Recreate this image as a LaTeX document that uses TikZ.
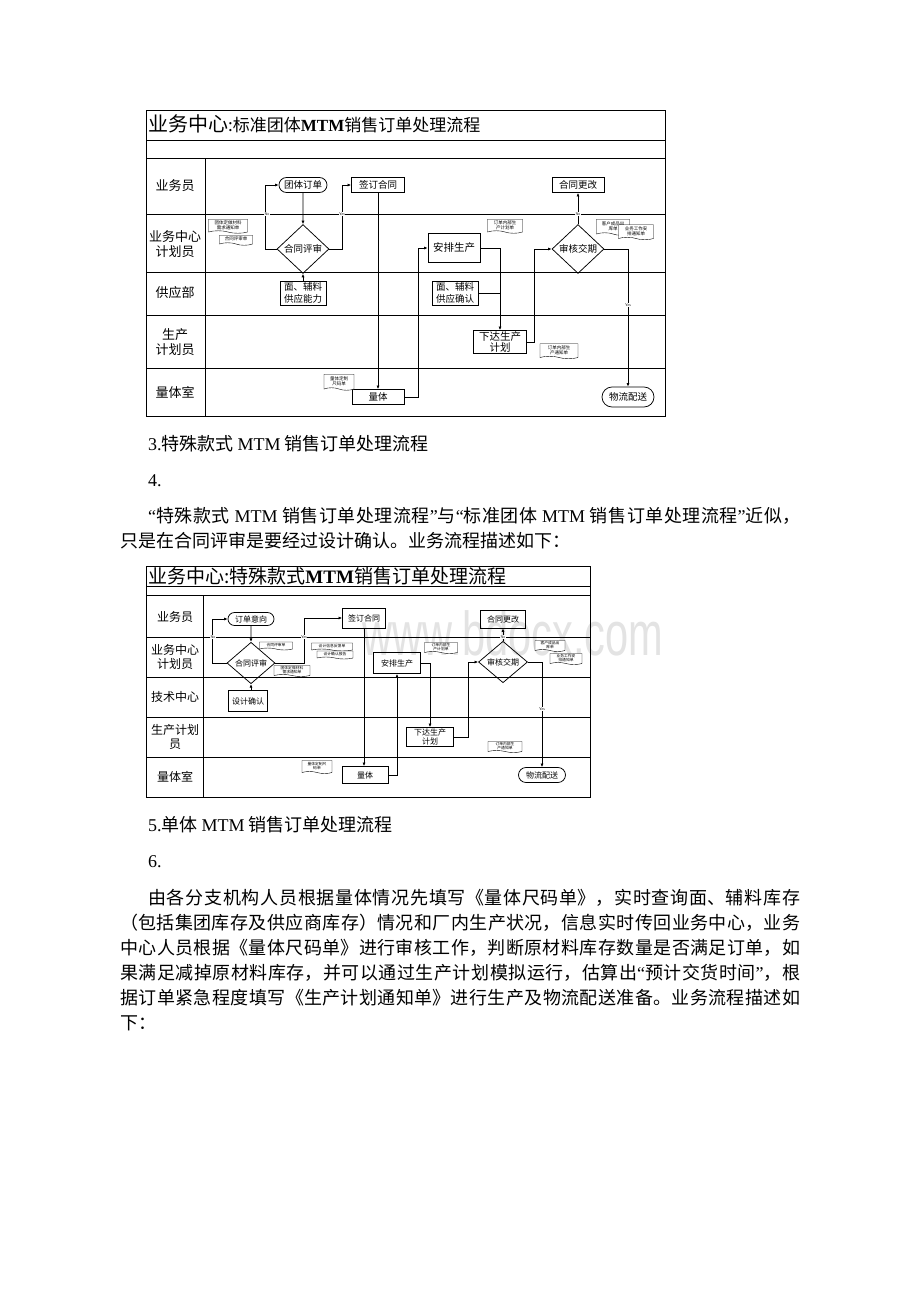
\documentclass[tikz,border=0pt]{standalone}
\usepackage{fontspec}
\setmainfont{Noto Sans CJK SC}
\newfontfamily\lat{Liberation Serif}
\newfontfamily\wmfont{Liberation Sans}
\usetikzlibrary{shapes.geometric,shapes.misc,shapes.symbols,arrows.meta}
\XeTeXlinebreaklocale "zh"
\XeTeXlinebreakskip=0pt plus 1.5pt
\newcommand\setfs[2]{\fontsize{#1}{#2}\selectfont}

\tikzset{
  laneframe/.style={line width=1pt},
  flow/.style={line width=0.75pt,-{Latex[length=3.5pt,width=3pt]}},
  link/.style={line width=0.75pt},
  procbox/.style={draw,line width=0.75pt,align=center,inner sep=0.5pt},
  term/.style={procbox,rounded rectangle},
  decide/.style={procbox,diamond},
  doc/.style={draw,fill=white,line width=0.4pt,tape,tape bend top=none,tape bend bottom=out and in,
    tape bend height=2.5pt,align=center,inner sep=0.3pt},
  lane/.style={align=center,inner sep=0pt},
  yn/.style={fill=white,inner sep=0.3pt,font=\lat\setfs{4}{4}},
  body/.style={anchor=base west,inner sep=0pt,font=\setfs{18}{25}}
}

\begin{document}
\begin{tikzpicture}[x=1pt,y=-1pt]
\useasboundingbox[fill=white] (0,0) rectangle (920,1302);
\node[text=black!11,font=\wmfont\setfs{62}{62},xscale=0.67,anchor=base] (wm) at (513,655) {www.bdocx.com};

% --- diagram 1
\draw[laneframe] (146,110) rectangle (665,416);
\foreach \y in {140,158,214,272,315,368} \draw[laneframe] (146,\y) -- (665,\y);
\draw[laneframe] (205,158) -- (205,416);
\node[anchor=west,inner sep=0pt] (titleA) at (148,124)
  {\setfs{20}{20}业务中心\setfs{17}{17}:标准团体{\lat\bfseries MTM}销售订单处理流程};

\begin{scope}[every node/.append style={font=\setfs{13}{15.5}}]
\node[lane] (laneA1) at (175,186) {业务员};
\node[lane] (laneA2) at (175,244) {业务中心\\计划员};
\node[lane] (laneA3) at (175,293) {供应部};
\node[lane] (laneA4) at (175,342) {生产\\计划员};
\node[lane] (laneA5) at (175,392) {量体室};
\end{scope}

\begin{scope}[every node/.append style={font=\setfs{9.5}{11.5}}]
\node[term,minimum width=49pt,minimum height=15pt] (ordA) at (303,185) {团体订单};
\node[procbox,minimum width=53pt,minimum height=15pt] (signA) at (378,185) {签订合同};
\node[procbox,minimum width=52pt,minimum height=15pt] (chgA) at (578,185) {合同更改};
\node[decide,minimum width=52pt,minimum height=29pt] (revA) at (303,249) {合同评审};
\node[procbox,minimum width=46pt,minimum height=24pt] (supA) at (303,293) {面、辅料\\供应能力};
\node[procbox,minimum width=52pt,minimum height=15pt] (measA) at (378,397) {量体};
\node[procbox,minimum width=52pt,minimum height=29pt,font=\setfs{10.5}{12}] (arrA) at (454,248) {安排生产};
\node[procbox,minimum width=46pt,minimum height=24pt] (cfmA) at (455,293) {面、辅料\\供应确认};
\node[procbox,minimum width=53pt,minimum height=23pt,font=\setfs{10.5}{11.5}] (issA) at (500,342) {下达生产\\计划};
\node[decide,minimum width=52pt,minimum height=30pt] (chkA) at (578,249) {审核交期};
\node[term,minimum width=53pt,minimum height=20pt] (logA) at (628,397) {物流配送};
\end{scope}

\draw[flow] (revA.west) -- ++(-11,0) |- (ordA.west);
\draw[flow] (ordA) -- (revA);
\draw[flow] (revA.east) -- ++(13,0) |- (signA.west);
\draw[flow] (supA) -- (revA);
\draw[flow] (signA.south) -- (measA.north);
\draw[flow] (measA.east) -- ++(14,0) |- (arrA.west);
\draw[flow] (arrA.east) -| (issA.north);
\draw[link] (cfmA.east) -- (cfmA.east -| issA.north);
\draw[flow] (issA.east) -- ++(7,0) |- (chkA.west);
\draw[flow] (chkA.north) -- (chgA.south);
\draw[flow] (chkA.east) -| (logA.north);
\node[yn] (noA1) at (267,214) {No};
\node[yn] (yesA1) at (342,214) {Yes};
\node[yn] (noA2) at (578,214) {No};
\node[yn] (yesA2) at (628,305) {Yes};

\begin{scope}[every node/.append style={font=\setfs{4.5}{5.2}}]
\node[doc,minimum width=39pt,minimum height=14pt] (dA1) at (228,225) {团体定做材料\\需求通知单};
\node[doc,minimum width=33pt,minimum height=10pt] (dA2) at (236,239) {合同评审单};
\node[doc,minimum width=35pt,minimum height=14pt] (dA3) at (505,225) {订单内部生\\产计划单};
\node[doc,minimum width=33pt,minimum height=16pt] (dA4) at (613,226) {客户成品出\\库单};
\node[doc,minimum width=35pt,minimum height=15pt] (dA5) at (636,231) {业务工作安\\排通知单};
\node[doc,minimum width=30pt,minimum height=16pt] (dA6) at (339,381) {量体定制\\尺码单};
\node[doc,minimum width=38pt,minimum height=15pt] (dA7) at (559,350) {订单内部生\\产通知单};
\end{scope}

% --- text
\node[body] (h3) at (148,450) {{\lat 3.}特殊款式 {\lat MTM} 销售订单处理流程};
\node[body] (h4) at (148,486) {\lat 4.};
\node[body,text width=680pt,align=justify] (p1) at (120,522)
  {\hspace*{28pt}{\lat “}特殊款式 {\lat MTM} 销售订单处理流程{\lat ”}与{\lat “}标准团体 {\lat MTM} 销售订单处理流程{\lat ”}近似，\linebreak
   只是在合同评审是要经过设计确认。业务流程描述如下：};

% --- diagram 2
\draw[laneframe] (146,566) rectangle (590,797);
\foreach \y in {586,595,637,677,717,757} \draw[laneframe] (146,\y) -- (590,\y);
\draw[laneframe] (203,595) -- (203,797);
\node[anchor=west,inner sep=0pt] (titleB) at (148,576)
  {\setfs{19}{19}业务中心:特殊款式{\lat\bfseries MTM}销售订单处理流程};

\begin{scope}[every node/.append style={font=\setfs{12}{14}}]
\node[lane] (laneB1) at (175,617) {业务员};
\node[lane] (laneB2) at (175,657) {业务中心\\计划员};
\node[lane] (laneB3) at (175,697) {技术中心};
\node[lane] (laneB4) at (175,737) {生产计划\\员};
\node[lane] (laneB5) at (175,777) {量体室};
\end{scope}

\begin{scope}[every node/.append style={font=\setfs{8}{9.5}}]
\node[term,minimum width=47pt,minimum height=13pt] (ordB) at (251,619) {订单意向};
\node[procbox,minimum width=43pt,minimum height=20pt] (signB) at (364,618) {签订合同};
\node[procbox,minimum width=45pt,minimum height=18pt] (chgB) at (503,619) {合同更改};
\node[decide,minimum width=48pt,minimum height=18pt] (revB) at (251,663) {合同评审};
\node[procbox,minimum width=39pt,minimum height=21pt] (desB) at (248,701) {设计确认};
\node[procbox,minimum width=46pt,minimum height=17pt] (measB) at (365,775) {量体};
\node[procbox,minimum width=47pt,minimum height=21pt] (arrB) at (397,663) {安排生产};
\node[procbox,minimum width=47pt,minimum height=19pt] (issB) at (430,737) {下达生产\\计划};
\node[decide,minimum width=49pt,minimum height=19pt] (chkB) at (503,662) {审核交期};
\node[term,minimum width=48pt,minimum height=15pt] (logB) at (542,775) {物流配送};
\end{scope}

\draw[flow] (revB.west) -- ++(-14,0) |- (ordB.west);
\draw[flow] (ordB) -- (revB);
\draw[flow] (revB.east) -- ++(29,0) |- (signB.west);
\draw[flow] (revB.south |- desB.north) -- (revB.south);
\draw[flow] (signB.south) -- (signB.south |- measB.north);
\draw[flow] (measB.east) -| (arrB.south);
\draw[flow] (arrB.east) -| (issB.north);
\draw[flow] (issB.east) -- ++(14,0) |- (chkB.west);
\draw[flow] (chkB.north) -- (chgB.south);
\draw[flow] (chkB.east) -| (logB.north);
\node[yn] (noB1) at (213,637) {No};
\node[yn] (yesB1) at (304,637) {Yes};
\node[yn] (noB2) at (503,637) {No};
\node[yn] (yesB2) at (542,709) {Yes};

\begin{scope}[every node/.append style={font=\setfs{3.8}{4.4}},doc/.append style={tape bend height=2pt}]
\node[doc,minimum width=33pt,minimum height=8pt] (dB1) at (276,645) {合同评审单};
\node[doc,minimum width=41pt,minimum height=8pt] (dB2) at (332,646) {设计信息反馈单};
\node[doc,minimum width=36pt,minimum height=8pt] (dB3) at (335,654) {设计确认报告};
\node[doc,minimum width=36pt,minimum height=11pt] (dB4) at (292,670) {团体定做材料\\需求通知单};
\node[doc,minimum width=33pt,minimum height=11pt] (dB5) at (441,647) {订单内部生\\产计划单};
\node[doc,minimum width=30pt,minimum height=11pt] (dB6) at (550,645) {客户成品出\\库单};
\node[doc,minimum width=32pt,minimum height=11pt] (dB7) at (566,658) {业务工作安\\排通知单};
\node[doc,minimum width=30pt,minimum height=13pt] (dB8) at (317,766) {量体定制尺\\码单};
\node[doc,minimum width=34pt,minimum height=11pt] (dB9) at (505,746) {订单内部生\\产通知单};
\end{scope}

% --- text
\node[body] (h5) at (148,831) {{\lat 5.}单体 {\lat MTM} 销售订单处理流程};
\node[body] (h6) at (148,867) {\lat 6.};
\node[body,text width=680pt,align=justify] (p2) at (120,904)
  {\hspace*{28pt}由各分支机构人员根据量体情况先填写《量体尺码单》，实时查询面、辅料库存\linebreak
   （包括集团库存及供应商库存）情况和厂内生产状况，信息实时传回业务中心，业务\linebreak
   中心人员根据《量体尺码单》进行审核工作，判断原材料库存数量是否满足订单，如\linebreak
   果满足减掉原材料库存，并可以通过生产计划模拟运行，估算出{\lat “}预计交货时间{\lat ”}，根\linebreak
   据订单紧急程度填写《生产计划通知单》进行生产及物流配送准备。业务流程描述如\linebreak
   下：};
\end{tikzpicture}
\end{document}
